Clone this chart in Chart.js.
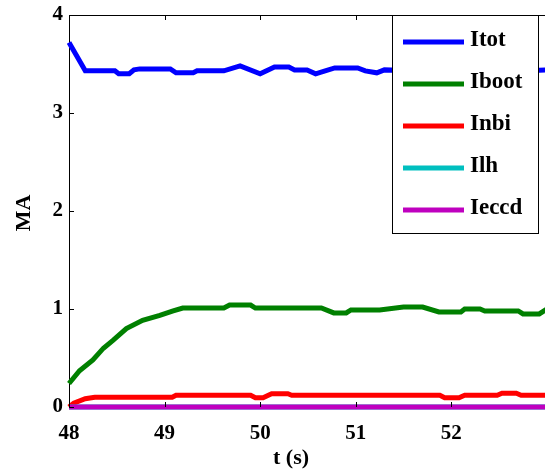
<!DOCTYPE html>
<html>
<head>
<meta charset="utf-8">
<script src="https://cdn.jsdelivr.net/npm/chart.js@4/dist/chart.umd.min.js"></script>
<style>
  html, body { margin: 0; padding: 0; background: #fff; overflow: hidden; }
  #wrap { width: 545px; height: 471px; position: relative; }
</style>
</head>
<body>
<div id="wrap"><canvas id="currents"></canvas></div>
<script>
// time bases (s) and currents (MA) for each component
const tTot = [48.00, 48.17, 48.48, 48.52, 48.63, 48.68, 48.74, 49.06, 49.12, 49.30, 49.34, 49.62, 49.79, 50.00, 50.15, 50.30, 50.36, 50.49, 50.58, 50.68, 50.78, 51.02, 51.10, 51.22, 51.30, 51.60, 52.00, 52.40, 52.80, 53.00];
const iTot = [3.72, 3.43, 3.43, 3.40, 3.40, 3.44, 3.45, 3.45, 3.41, 3.41, 3.43, 3.43, 3.48, 3.40, 3.47, 3.47, 3.44, 3.44, 3.40, 3.43, 3.46, 3.46, 3.43, 3.41, 3.44, 3.43, 3.44, 3.42, 3.43, 3.44];

const tBoot = [48.00, 48.11, 48.25, 48.36, 48.46, 48.60, 48.77, 48.95, 49.09, 49.19, 49.62, 49.68, 49.90, 49.95, 50.64, 50.77, 50.90, 50.95, 51.25, 51.50, 51.70, 51.87, 52.10, 52.14, 52.30, 52.35, 52.70, 52.75, 52.92, 53.00];
const iBoot = [0.24, 0.37, 0.48, 0.60, 0.68, 0.80, 0.885, 0.935, 0.98, 1.01, 1.01, 1.04, 1.04, 1.01, 1.01, 0.96, 0.96, 0.99, 0.99, 1.02, 1.02, 0.97, 0.97, 1.00, 1.00, 0.98, 0.98, 0.95, 0.95, 1.00];

const tNbi = [48.00, 48.05, 48.17, 48.27, 49.08, 49.12, 49.90, 49.95, 50.03, 50.12, 50.29, 50.33, 51.88, 51.93, 52.08, 52.14, 52.48, 52.53, 52.68, 52.73, 53.00];
const iNbi = [0.00, 0.04, 0.085, 0.10, 0.10, 0.12, 0.12, 0.095, 0.095, 0.135, 0.135, 0.12, 0.12, 0.095, 0.095, 0.12, 0.12, 0.14, 0.14, 0.12, 0.12];

const tFlat = [48.00, 53.00];
const iLh = [0, 0];
const iEccd = [0, 0];

const names = ["Itot", "Iboot", "Inbi", "Ilh", "Ieccd"];
const colors = ["#0000ff", "#008000", "#ff0000", "#00bfbf", "#bf00bf"];

const xTicks = [48, 49, 50, 51, 52];
const yTicks = [0, 1, 2, 3, 4];

const pairs = (t, v) => t.map((x, i) => ({ x, y: v[i] }));
const series = [pairs(tTot, iTot), pairs(tBoot, iBoot), pairs(tNbi, iNbi), pairs(tFlat, iLh), pairs(tFlat, iEccd)];

const FONT = "'Liberation Serif', 'DejaVu Serif', serif";

// axes box, inward ticks, legend and axis labels
const frame = {
  id: "frame",
  afterDraw(chart) {
    const ctx = chart.ctx;
    const a = chart.chartArea;
    const xs = chart.scales.x, ys = chart.scales.y;
    ctx.save();
    ctx.strokeStyle = "#000";
    ctx.lineWidth = 1;
    ctx.beginPath();
    ctx.moveTo(a.left, a.top + 0.5);
    ctx.lineTo(a.right, a.top + 0.5);
    xTicks.forEach(v => {
      const px = Math.round(xs.getPixelForValue(v)) + 0.5;
      ctx.moveTo(px, a.bottom); ctx.lineTo(px, a.bottom - 5);
      ctx.moveTo(px, a.top); ctx.lineTo(px, a.top + 5);
    });
    yTicks.forEach(v => {
      const py = Math.round(ys.getPixelForValue(v)) + 0.5;
      ctx.moveTo(a.left, py); ctx.lineTo(a.left + 5, py);
    });
    ctx.stroke();

    // legend
    const bx = a.right - 153, by = a.top, bw = 146, bh = 218;
    ctx.fillStyle = "#fff";
    ctx.fillRect(bx, by, bw, bh);
    ctx.strokeRect(bx + 0.5, by + 0.5, bw, bh);
    ctx.font = "bold 23px " + FONT;
    ctx.textBaseline = "middle";
    ctx.textAlign = "left";
    chart.data.datasets.forEach((ds, i) => {
      const y = by + 26 + i * 42;
      ctx.strokeStyle = ds.borderColor;
      ctx.lineWidth = 5;
      ctx.beginPath();
      ctx.moveTo(bx + 11, y + 1);
      ctx.lineTo(bx + 72, y + 1);
      ctx.stroke();
      ctx.fillStyle = "#000";
      ctx.fillText(ds.label, bx + 78, y - 1);
    });

    // axis titles
    ctx.fillStyle = "#000";
    ctx.font = "bold 22px " + FONT;
    ctx.textAlign = "center";
    ctx.fillText("t (s)", (a.left + a.right) / 2 - 16, 458);
    ctx.translate(24, (a.top + a.bottom) / 2 + 2);
    ctx.rotate(-Math.PI / 2);
    ctx.fillText("MA", 0, 0);
    ctx.restore();
  }
};

new Chart(document.getElementById("currents"), {
  type: "line",
  data: {
    datasets: series.map((data, i) => ({
      label: names[i],
      data,
      borderColor: colors[i],
      backgroundColor: colors[i],
      borderWidth: 5,
      pointRadius: 0,
      tension: 0,
      fill: false,
      clip: 4,
      order: names.length - i
    }))
  },
  options: {
    responsive: true,
    maintainAspectRatio: false,
    animation: false,
    events: [],
    layout: { padding: { top: 15, right: 0, left: 0, bottom: 0 } },
    plugins: { legend: { display: false }, tooltip: { enabled: false } },
    scales: {
      x: {
        type: "linear",
        min: 48,
        max: 52.98,
        afterBuildTicks: s => { s.ticks = xTicks.map(value => ({ value })); },
        afterFit: s => { s.height = 64; s.paddingLeft = 0; s.paddingRight = 0; },
        ticks: { color: "#000", padding: 14, maxRotation: 0, font: { family: FONT, size: 21, weight: "bold" } },
        grid: { drawOnChartArea: false, drawTicks: false },
        border: { color: "#000", width: 1 }
      },
      y: {
        min: 0,
        max: 4,
        afterBuildTicks: s => { s.ticks = yTicks.map(value => ({ value })); },
        afterFit: s => { s.width = 69; s.paddingTop = 0; s.paddingBottom = 0; },
        ticks: { color: "#000", padding: 6, font: { family: FONT, size: 21, weight: "bold" } },
        grid: { drawOnChartArea: false, drawTicks: false },
        border: { color: "#000", width: 1 }
      }
    }
  },
  plugins: [frame]
});
</script>
</body>
</html>
